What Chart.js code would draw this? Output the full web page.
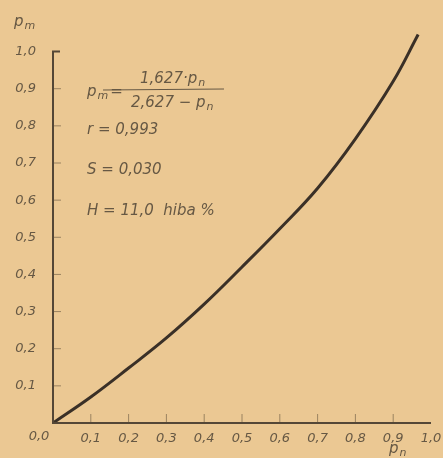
<!DOCTYPE html>
<html>
<head>
<meta charset="utf-8">
<script src="https://cdn.jsdelivr.net/npm/chart.js@4"></script>
<style>
  html, body { margin: 0; padding: 0; background: #ebc893; }
  #wrap { width: 443px; height: 458px; position: relative; }
</style>
</head>
<body>
<div id="wrap"><canvas id="chart"></canvas></div>
<script>
// values
const pn = [0, 0.1, 0.2, 0.3, 0.4, 0.5, 0.6, 0.7, 0.8, 0.9, 0.966];
const pm = [0, 0.070, 0.148, 0.229, 0.320, 0.420, 0.523, 0.632, 0.765, 0.920, 1.046];
const tickValues = [0.1, 0.2, 0.3, 0.4, 0.5, 0.6, 0.7, 0.8, 0.9, 1.0];

const ink = "#665844";
const axisInk = "#544736";
const fam = "'DejaVu Sans'";

const fmt = v => v.toFixed(1).replace(".", ",");

// text with a subscript, returns end x
function sub(ctx, base, s, x, y, size) {
  ctx.font = `italic ${size}px ${fam}`;
  ctx.fillText(base, x, y);
  const w = ctx.measureText(base).width;
  ctx.font = `italic ${Math.round(size * 0.72)}px ${fam}`;
  ctx.fillText(s, x + w + 1, y + 4);
  return x + w + 1 + ctx.measureText(s).width;
}

const axesPlugin = {
  id: "axes",
  afterDatasetsDraw(chart) {
    const ctx = chart.ctx;
    const x = chart.scales.x, y = chart.scales.y;
    const x0 = x.getPixelForValue(0), y0 = y.getPixelForValue(0);
    const yTop = y.getPixelForValue(1.0);
    ctx.save();
    ctx.strokeStyle = axisInk;
    ctx.lineWidth = 2;
    ctx.beginPath();
    ctx.moveTo(x0 + 7, yTop);
    ctx.lineTo(x0, yTop);
    ctx.lineTo(x0, y0);
    ctx.lineTo(x.getPixelForValue(1.0), y0);
    ctx.stroke();
    ctx.lineWidth = 1;
    ctx.strokeStyle = "rgba(90,75,55,0.55)";
    tickValues.forEach(v => {
      if (v < 1.0) {
        const py = y.getPixelForValue(v);
        ctx.beginPath();
        ctx.moveTo(x0, py);
        ctx.lineTo(x0 + 8, py);
        ctx.stroke();
        const px = x.getPixelForValue(v);
        ctx.beginPath();
        ctx.moveTo(px, y0);
        ctx.lineTo(px, y0 - 9);
        ctx.stroke();
      }
    });

    ctx.fillStyle = ink;
    ctx.textBaseline = "middle";
    ctx.textAlign = "center";
    ctx.font = `italic 13px ${fam}`;
    ctx.fillText("0,0", x0 - 14, y0 + 14);

    // axis titles
    ctx.textAlign = "left";
    sub(ctx, "p", "m", 14, 22, 15);
    sub(ctx, "p", "n", 389, 449, 15);

    // formula and statistics
    const e = sub(ctx, "p", "m", 87, 92, 15);
    ctx.font = `italic 15px ${fam}`;
    ctx.fillText("=", e + 2, 92);
    sub(ctx, "1,627·p", "n", 140, 79, 15);
    sub(ctx, "2,627 − p", "n", 131, 103, 15);
    ctx.strokeStyle = ink;
    ctx.lineWidth = 1.2;
    ctx.beginPath();
    ctx.moveTo(103, 90);
    ctx.lineTo(224, 89);
    ctx.stroke();
    ctx.font = `italic 15px ${fam}`;
    ctx.fillText("r = 0,993", 87, 130);
    ctx.fillText("S = 0,030", 87, 170);
    ctx.fillText("H = 11,0  hiba %", 87, 211);
    ctx.restore();
  }
};

const data = {
  datasets: [
    {
      label: "pm",
      data: pn.map((v, i) => ({ x: v, y: pm[i] })),
      borderColor: "#3a3027",
      borderWidth: 3,
      pointRadius: 0,
      tension: 0.4,
      fill: false,
    },
  ],
};

const tickFont = { family: "DejaVu Sans", size: 13, style: "italic" };

const config = {
  type: "line",
  data: data,
  plugins: [axesPlugin],
  options: {
    responsive: true,
    maintainAspectRatio: false,
    animation: false,
    layout: { padding: { top: 33, right: 12, left: 0, bottom: 0 } },
    plugins: { legend: { display: false }, tooltip: { enabled: false } },
    scales: {
      x: {
        type: "linear",
        min: 0,
        max: 1.0,
        grid: { display: false },
        border: { display: false },
        afterFit: s => { s.height = 35; },
        ticks: {
          stepSize: 0.1,
          padding: 0,
          color: ink,
          font: tickFont,
          maxRotation: 0,
          callback: v => (v > 0.05 && v < 1.001 ? fmt(v) : ""),
        },
      },
      y: {
        type: "linear",
        min: 0,
        max: 1.05,
        grid: { display: false },
        border: { display: false },
        afterFit: s => { s.width = 53; },
        ticks: {
          stepSize: 0.1,
          padding: 9,
          color: ink,
          font: tickFont,
          callback: v => (v > 0.05 && v < 1.001 ? fmt(v) : ""),
        },
      },
    },
  },
};

new Chart(document.getElementById("chart").getContext("2d"), config);
</script>
</body>
</html>
